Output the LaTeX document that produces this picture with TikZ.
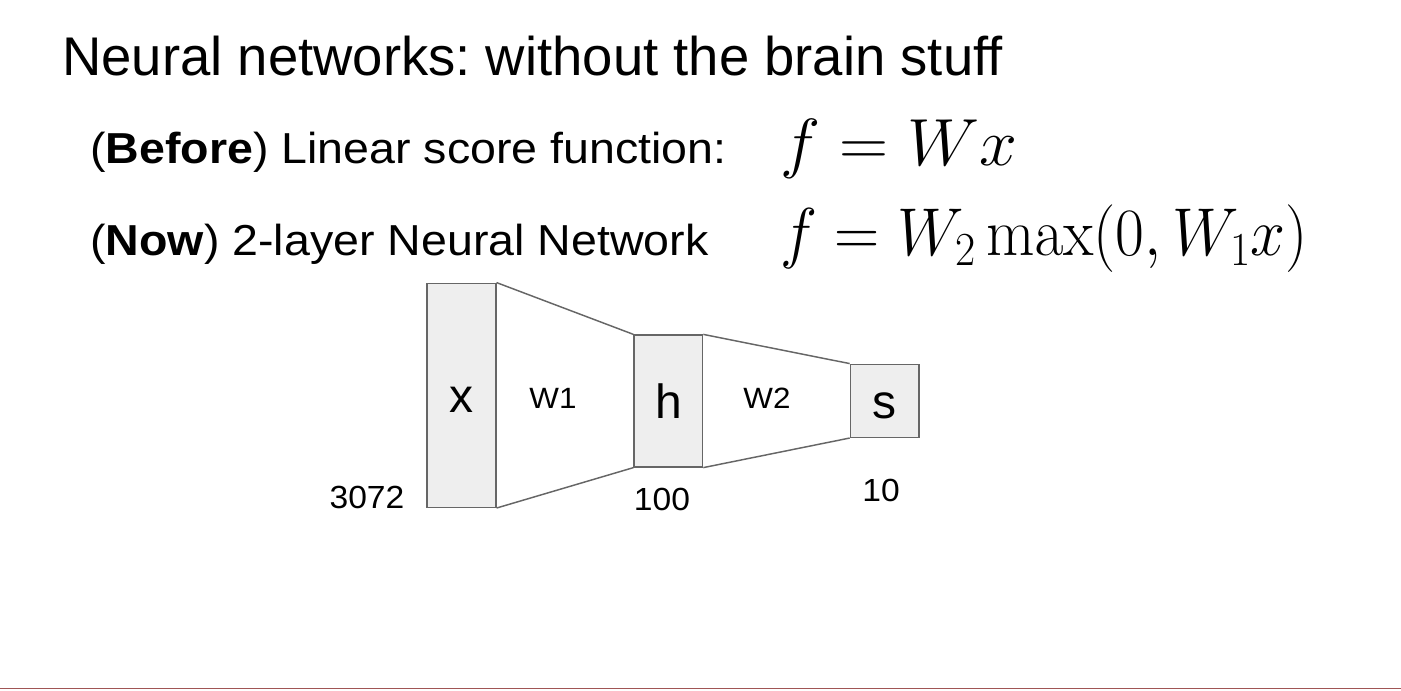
\RequirePackage{fix-cm}
\documentclass[tikz,border=0pt]{standalone}
\usepackage[no-math]{fontspec}
\setmainfont{Liberation Sans}
\usepackage{tikz}
\usetikzlibrary{positioning}

\definecolor{boxfill}{HTML}{EEEEEE}
\definecolor{boxline}{HTML}{666666}
\definecolor{rulered}{HTML}{A05555}

\begin{document}
\frenchspacing
\begin{tikzpicture}[
x=0.75pt, y=-0.75pt,
layer/.style={draw=boxline, line width=1.1pt, fill=boxfill, inner sep=0pt, text height=26.2pt, text depth=0pt, font=\fontsize{36}{40}\selectfont},
wlabel/.style={xscale=1.07, transform shape, font=\fontsize{22}{26}\selectfont},
dimlabel/.style={xscale=1.05, transform shape, font=\fontsize{24}{28}\selectfont},
textline/.style={anchor=base west, inner sep=0pt, xscale=1.074, transform shape, font=\fontsize{32.5}{36}\selectfont},
mathline/.style={anchor=base west, inner sep=0pt, transform shape},
link/.style={draw=boxline, line width=1.1pt}
]
\useasboundingbox (0,0) rectangle (1401,690);

% heading and formulas
\node[anchor=base west, inner sep=0pt, font=\fontsize{40.85}{46}\selectfont] (title) at (62,75) {Neural networks: without the brain stuff};
\node[textline] (before) at (90,163) {(\textbf{Before}) Linear score function:};
\node[textline] (now) at (90,255) {(\textbf{Now}) 2-layer Neural Network};
\node[mathline, xscale=1.02, font=\fontsize{50}{54}\selectfont] (flin) at (780,165) {$f = Wx$};
\node[mathline, yscale=1.08, font=\fontsize{47}{51}\selectfont] (fnet) at (780,255) {$f = W_2\max(0, W_1x)$};

% layers
\node[layer, minimum width=51.75pt, minimum height=168pt] (x) at (461.3,395.3) {x};
\node[layer, minimum width=51.3pt, minimum height=98.8pt] (h) at (668.4,401) {h};
\node[layer, minimum width=51.3pt, minimum height=54.75pt] (s) at (884.6,400.8) {s};

\draw[link] (x.north east) -- (h.north west);
\draw[link] (x.south east) -- (h.south west);
\draw[link] (h.north east) -- (s.north west);
\draw[link] (h.south east) -- (s.south west);

\node[wlabel] (w1) at (553,398) {W1};
\node[wlabel] (w2) at (767,398) {W2};

\node[dimlabel] (nx) at (367,497) {3072};
\node[dimlabel] (nh) at (662,499) {100};
\node[dimlabel] (ns) at (881,490) {10};

\draw[rulered, line width=1.2pt] (0,688.5) -- (1401,688.5);
\end{tikzpicture}
\end{document}
